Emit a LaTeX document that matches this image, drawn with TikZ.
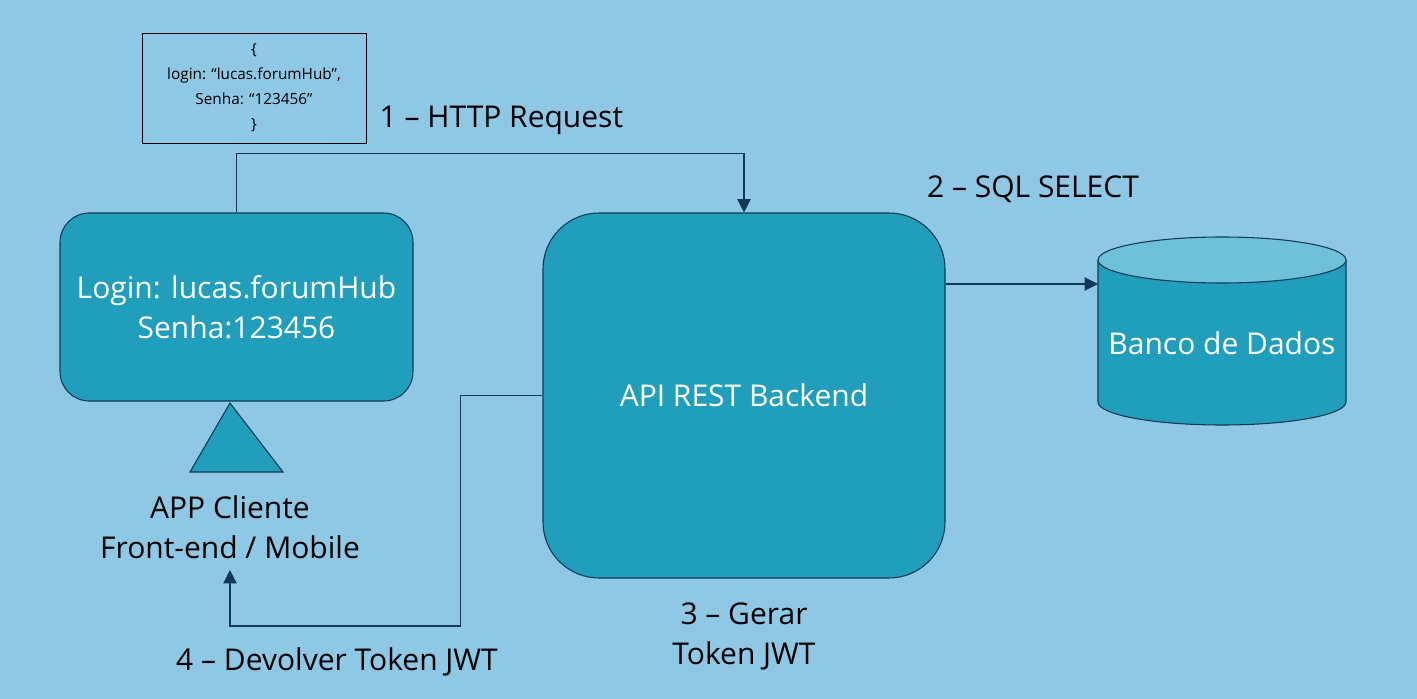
\documentclass[tikz,border=0pt]{standalone}
\usepackage{fontspec}
\setmainfont{Open Sans}
\usepackage{tikz}
\usetikzlibrary{%
  calc,
  positioning,
  arrows.meta,
}
\definecolor{bgblue}{RGB}{143,200,229}
\definecolor{tealbox}{RGB}{33,158,188}
\definecolor{dbtop}{RGB}{110,193,216}
\definecolor{edge}{RGB}{16,58,84}

\begin{document}
\begin{tikzpicture}[x=0.75pt, y=-0.75pt,
    box/.style={draw=edge, line width=0.8pt, fill=tealbox, text=white,
      align=center, font=\fontsize{22.5}{30}\selectfont},
    lbl/.style={align=center, font=\fontsize{22.5}{30}\selectfont},
    flow/.style={draw=edge, line width=0.8pt,
      -{Triangle[length=10pt, width=10pt]}},
  ]
  % 1 unit = 1px of the sketch, y grows downwards
  \fill[bgblue] (0,0) rectangle (1417,699);
  \useasboundingbox (0,0) rectangle (1417,699);

  \node[box, minimum width=264.75pt, minimum height=141pt,
    rounded corners=22pt] (client) at (236.5,307)
    {Login: lucas.forumHub\\Senha:123456};
  \node[box, minimum width=301.5pt, minimum height=273.75pt,
    rounded corners=42pt] (api) at (744,395.5) {API REST Backend};

  \node[draw=black, line width=0.6pt, minimum width=168pt,
    minimum height=82.5pt, align=center,
    font=\fontsize{11.5}{18.75}\selectfont] (json) at (254,88)
    {\{\\login: “lucas.forumHub”,\\Senha: “123456”\\\}};

  % app icon
  \coordinate (T) at (230,403);
  \filldraw[fill=tealbox, draw=edge, line width=0.8pt]
    (T) -- (283,472) -- (190,472) -- cycle;
  \node[lbl] (app) at (230,527) {APP Cliente\\Front-end / Mobile};

  % database
  \fill[tealbox, draw=edge, line width=0.8pt]
    (1098,260) -- (1098,402)
    arc[start angle=180, end angle=360, x radius=93pt, y radius=17.25pt]
    -- (1346,260);
  \filldraw[fill=dbtop, draw=edge, line width=0.8pt]
    (1222,260) ellipse [x radius=93pt, y radius=17.25pt];
  \node[text=white, font=\fontsize{22.5}{30}\selectfont] (db) at (1222,343)
    {Banco de Dados};
  \coordinate (dbin) at (1098,284);

  % labels
  \node[lbl, anchor=west] (req) at (375,120) {1 – HTTP Request};
  \node[lbl] (sql) at (1033,189) {2 – SQL SELECT};
  \node[lbl] (gen) at (744,636) {3 – Gerar\\Token JWT};
  \node[lbl] (ret) at (337,662) {4 – Devolver Token JWT};
  \coordinate (back) at (230,570);

  % connectors
  \draw[flow] (client.north) -- ++(0,-59) -| (api.north);
  \draw[flow] (api.east |- dbin) -- (dbin);
  \draw[flow] (api.west) -- ++(-82,0) -- ++(0,230.5) -| (back);
\end{tikzpicture}
\end{document}
